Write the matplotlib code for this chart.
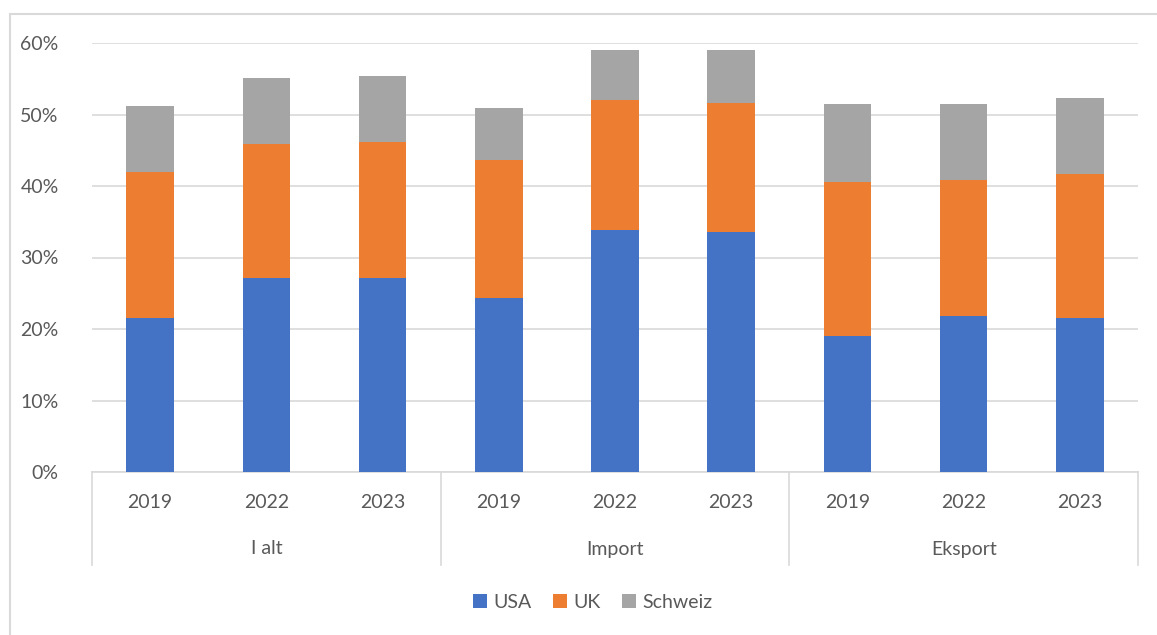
import matplotlib
matplotlib.use("Agg")
import matplotlib.pyplot as plt
from matplotlib.patches import Rectangle
from matplotlib.lines import Line2D
import matplotlib.transforms as mtrans
import numpy as np

groups = ["I alt", "Import", "Eksport"]
years = ["2019", "2022", "2023"]
series = ["USA", "UK", "Schweiz"]
colors = ["#4472C4", "#ED7D31", "#A5A5A5"]

# segment values (fractions)
usa = [0.215, 0.271, 0.271, 0.243, 0.338, 0.336, 0.190, 0.218, 0.215]
uk = [0.205, 0.188, 0.191, 0.193, 0.182, 0.180, 0.216, 0.190, 0.202]
schweiz = [0.092, 0.092, 0.092, 0.073, 0.070, 0.074, 0.109, 0.107, 0.106]

plt.rcParams['font.family'] = ['Lato', 'DejaVu Sans']
txt = "#595959"
grid = "#d9d9d9"
fs = 14

fig = plt.figure(figsize=(11.57, 6.35), dpi=100)
W, H = 1157, 635
ax = fig.add_axes([92 / W, (H - 472) / H, (1138 - 92) / W, (472 - 43) / H])

x = np.arange(len(usa))
vals = [usa, uk, schweiz]
bottom = np.zeros(len(usa))
for name, v, c in zip(series, vals, colors):
    ax.bar(x, v, width=0.41, bottom=bottom, color=c, label=name, zorder=3)
    bottom = bottom + np.array(v)

ax.set_xlim(-0.5, len(usa) - 0.5)
ax.set_ylim(0, 0.6)
ax.set_yticks(np.arange(0, 0.61, 0.1))
ax.set_yticklabels([f"{int(round(t*100))}%" for t in np.arange(0, 0.61, 0.1)],
                   color=txt, fontsize=fs)
ax.tick_params(axis='y', length=0, pad=24)
ax.set_xticks([])
ax.yaxis.grid(True, color=grid, linewidth=1.2, zorder=0)
for s in ['top', 'right', 'left']:
    ax.spines[s].set_visible(False)
ax.spines['bottom'].set_color(grid)
ax.spines['bottom'].set_linewidth(1.2)

trans = mtrans.blended_transform_factory(ax.transData, ax.transAxes)
ph = 472 - 43
for i in range(len(usa)):
    ax.text(i, -(502 - 472) / ph, years[i % 3], transform=trans, ha='center', va='center',
            color=txt, fontsize=fs)
for g, name in enumerate(groups):
    ax.text(3 * g + 1, -(549 - 472) / ph, name, transform=trans, ha='center', va='center',
            color=txt, fontsize=fs)
for xs in [-0.5, 2.5, 5.5, 8.5]:
    ax.add_line(Line2D([xs, xs], [0, -(565 - 472) / ph], transform=trans, color=grid,
                       linewidth=1.2, clip_on=False))

fig.legend(loc='center', bbox_to_anchor=(593 / W, 1 - 602 / H), ncol=3, frameon=False,
           handlelength=0.7, handleheight=0.7, handletextpad=0.35, columnspacing=1.1,
           fontsize=fs, labelcolor=txt)

fig.add_artist(Rectangle((10 / W, -0.1), 1.2, 1 - 14 / H + 0.1, transform=fig.transFigure,
                         fill=False, edgecolor=grid, linewidth=1.5))

fig.savefig("out.png", dpi=100, facecolor="white")
